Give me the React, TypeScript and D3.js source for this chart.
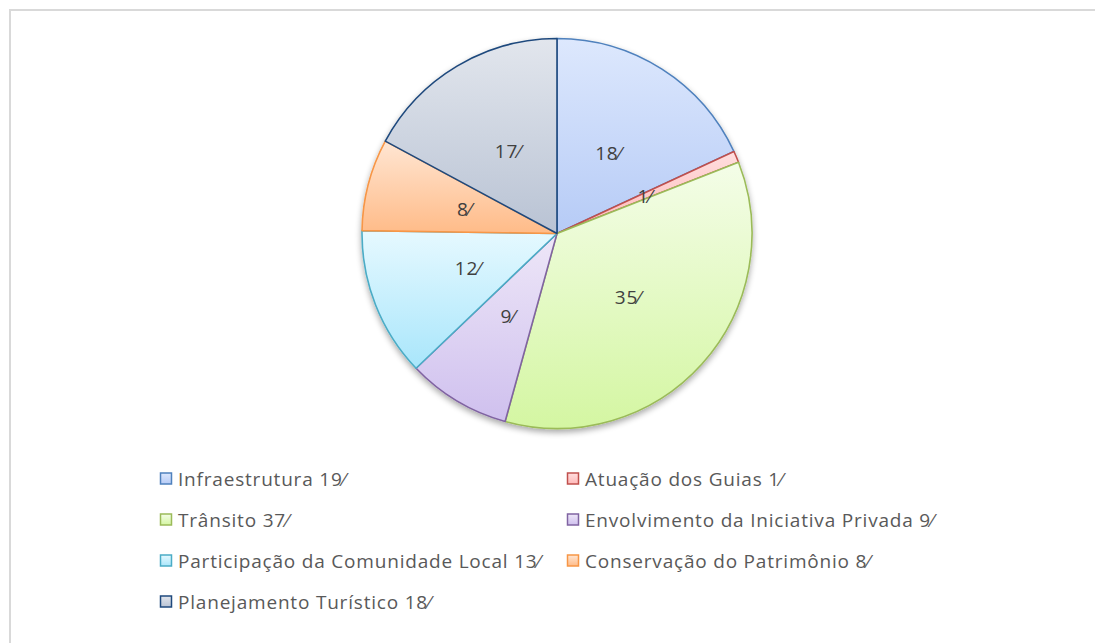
import React from "react";
import * as d3 from "d3";

const categories = [
  "Infraestrutura",
  "Atuação dos Guias",
  "Trânsito",
  "Envolvimento da Iniciativa Privada",
  "Participação da Comunidade Local",
  "Conservação do Patrimônio",
  "Planejamento Turístico",
];
const legendValues = [19, 1, 37, 9, 13, 8, 18];
const sliceLabels = [18, 1, 35, 9, 12, 8, 17];
const strokeColors = ["#4f81bd", "#c0504d", "#9bbb59", "#8064a2", "#4bacc6", "#f79646", "#1f497d"];
const fillTop = ["#dde8fd", "#ffdede", "#f4fde8", "#eee7f8", "#e6f9ff", "#ffe6d3", "#e2e6ed"];
const fillBottom = ["#b6cbf6", "#ffb9b9", "#d4f6a2", "#cfc0ee", "#a9e6fb", "#ffbb88", "#b9c3d4"];

const W = 1095;
const H = 643;
const cx = 557;
const cy = 233.5;
const R = 195;

export default function App() {
  const pie = d3.pie<number>().sort(null).value((d) => d)(legendValues);
  const arc = d3.arc<d3.PieArcDatum<number>>().innerRadius(0).outerRadius(R);
  const labelArc = d3.arc<d3.PieArcDatum<number>>().innerRadius(R * 0.49).outerRadius(R * 0.49);
  const font = "'Open Sans', sans-serif";
  const colX = [160, 567];
  const rowY = [479, 520, 561, 602];
  return (
    <svg width={W} height={H} style={{ position: "absolute", left: 0, top: 0 }}>
      <defs>
        {categories.map((_, i) => (
          <linearGradient key={i} id={`g${i}`} x1="0" y1="0" x2="0" y2="1">
            <stop offset="0" stopColor={fillTop[i]} />
            <stop offset="1" stopColor={fillBottom[i]} />
          </linearGradient>
        ))}
        <filter id="shadow" x="-20%" y="-20%" width="140%" height="140%">
          <feGaussianBlur in="SourceAlpha" stdDeviation="3" />
          <feOffset dx="0" dy="3" result="b" />
          <feComponentTransfer>
            <feFuncA type="linear" slope="0.35" />
          </feComponentTransfer>
          <feMerge>
            <feMergeNode />
            <feMergeNode in="SourceGraphic" />
          </feMerge>
        </filter>
      </defs>
      <rect x={0} y={0} width={W} height={H} fill="#fff" />
      <rect x={10} y={10} width={1300} height={1000} fill="none" stroke="#d9d9d9" strokeWidth={2} />
      <g transform={`translate(${cx},${cy})`}>
        <g filter="url(#shadow)">
          {pie.map((p, i) => (
            <path key={i} d={arc(p) || ""} fill={`url(#g${i})`} stroke={strokeColors[i]} strokeWidth={1.6} strokeLinejoin="round" />
          ))}
        </g>
        {pie.map((p, i) => {
          const [x, y] = labelArc.centroid(p);
          return (
            <text key={i} x={x} y={y} textAnchor="middle" dominantBaseline="central" fontFamily={font} fontSize={19} letterSpacing={0.8} fill="#404040">
              {sliceLabels[i]}⁄
            </text>
          );
        })}
      </g>
      {categories.map((c, i) => {
        const x = colX[i % 2];
        const y = rowY[Math.floor(i / 2)];
        return (
          <g key={c}>
            <rect x={x + 0.5} y={y - 6} width={11} height={11} fill={`url(#g${i})`} stroke={strokeColors[i]} strokeWidth={1.5} />
            <text x={x + 18} y={y} dominantBaseline="central" fontFamily={font} fontSize={19} letterSpacing={0.8} fill="#595959">
              {c} {legendValues[i]}⁄
            </text>
          </g>
        );
      })}
    </svg>
  );
}
